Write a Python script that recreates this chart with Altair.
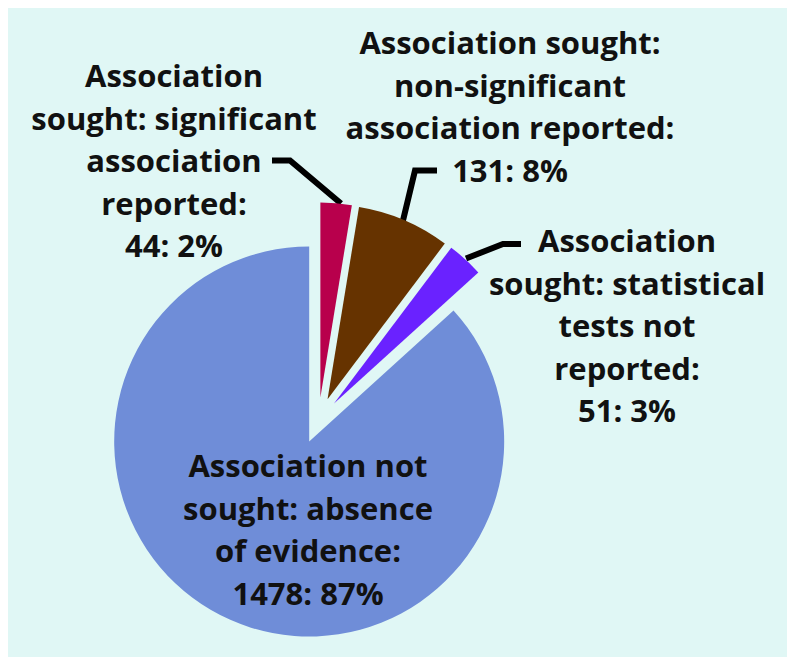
import altair as alt
import pandas as pd

# ---- data ----
categories = [
    "Association sought: significant association reported",
    "Association sought: non-significant association reported",
    "Association sought: statistical tests not reported",
    "Association not sought: absence of evidence",
]
counts = [44, 131, 51, 1478]
percents = [2, 8, 3, 87]
label_heads = [
    ["Association", "sought: significant", "association", "reported:"],
    ["Association sought:", "non-significant", "association reported:"],
    ["Association", "sought: statistical", "tests not", "reported:"],
    ["Association not", "sought: absence", "of evidence:"],
]
colors = ["#B8004C", "#663300", "#6A22FF", "#6F8DD8"]

# ---- layout (pixels, relative to the pie centre) ----
W, H = 779, 649
CX, CY = 310.5, 412.5
R = 195
EXPLODE = 23
label_pos = [(-144.5, -342.5), (191.5, -375.5), (308.5, -177.5), (-10.5, 47.5)]
leader_pts = [
    [(-46.5, -260), (-28.5, -260), (22.5, -217)],
    [(118.5, -250), (96.5, -250), (84.5, -200)],
    [(202.5, -176.5), (184.5, -176.5), (147.5, -162)],
]

xs = alt.Scale(domain=[-CX, W - CX], nice=False, zero=False)
ys = alt.Scale(domain=[-CY, H - CY], nice=False, zero=False, reverse=True)

slices = pd.DataFrame({
    "cat": categories,
    "count": counts,
    "ord": list(range(len(categories))),
})

pie = (
    alt.Chart(slices)
    .transform_joinaggregate(total="sum(count)")
    .transform_window(cum="sum(count)", sort=[alt.SortField("ord")], frame=[None, 0])
    .transform_calculate(
        t1="datum.cum / datum.total * 2 * PI",
        t0="(datum.cum - datum.count) / datum.total * 2 * PI",
    )
    .transform_calculate(mid="(datum.t0 + datum.t1) / 2")
    .transform_calculate(
        dx=f"{EXPLODE} * sin(datum.mid)",
        dy=f"-{EXPLODE} * cos(datum.mid)",
    )
    .mark_arc(radius=R)
    .encode(
        x=alt.X("dx:Q", scale=xs, axis=None),
        y=alt.Y("dy:Q", scale=ys, axis=None),
        theta=alt.Theta("t0:Q", scale=None),
        theta2=alt.Theta2("t1:Q"),
        color=alt.Color("cat:N", scale=alt.Scale(domain=categories, range=colors), legend=None),
    )
)

labels = pd.DataFrame({
    "text": [heads + [f"{c}: {p}%"] for heads, c, p in zip(label_heads, counts, percents)],
    "lx": [p[0] for p in label_pos],
    "ly": [p[1] for p in label_pos],
})

text = (
    alt.Chart(labels)
    .mark_text(font="Open Sans", fontWeight="bold", fontSize=31, lineHeight=42.5,
               align="center", baseline="middle", color="#111111")
    .encode(
        x=alt.X("lx:Q", scale=xs, axis=None),
        y=alt.Y("ly:Q", scale=ys, axis=None),
        text="text",
    )
)

rows = []
for s, pts in enumerate(leader_pts):
    for i, (px, py) in enumerate(pts):
        rows.append({"seg": s, "i": i, "px": px, "py": py})
leaders = pd.DataFrame(rows)

lines = (
    alt.Chart(leaders)
    .mark_line(color="#000000", strokeWidth=6, strokeJoin="miter", strokeCap="butt")
    .encode(
        x=alt.X("px:Q", scale=xs, axis=None),
        y=alt.Y("py:Q", scale=ys, axis=None),
        detail="seg:N",
        order="i:Q",
    )
)

chart = (
    alt.layer(lines, pie, text)
    .properties(width=W, height=H, autosize=alt.AutoSizeParams(type="none"), padding=0,
                background="#E0F7F5")
    .configure_view(stroke=None)
)

chart.save("out.html", embed_options={"renderer": "svg", "actions": False})
